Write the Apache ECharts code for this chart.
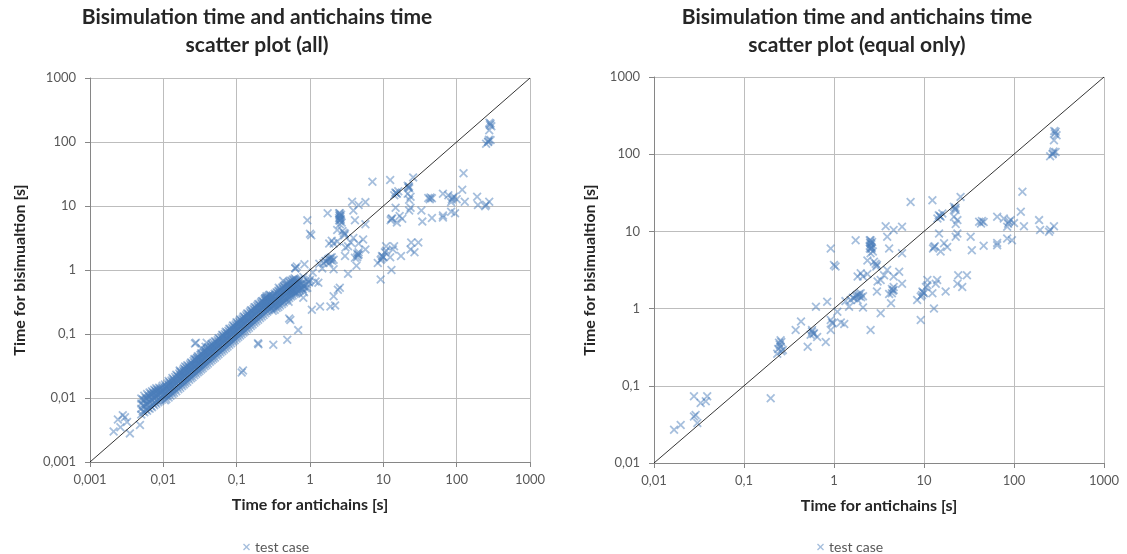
<!DOCTYPE html>
<html><head><meta charset="utf-8">
<script src="https://cdn.jsdelivr.net/npm/echarts@6/dist/echarts.min.js"></script>
<style>html,body{margin:0;padding:0;background:#fff}#c{width:1127px;height:554px}</style>
</head><body><div id="c"></div>
<script>
// Tick labels (comma decimal)
const tickLabels = ['0,001','0,01','0,1','1','10','100','1000'];
const xAxisTitle = 'Time for antichains [s]';
const yAxisTitle = 'Time for bisimualtion [s]';
const titleAll = 'Bisimulation time and antichains time\nscatter plot (all)';
const titleEqual = 'Bisimulation time and antichains time\nscatter plot (equal only)';
const seriesName = 'test case';

// Cases where both methods agree (shown in both plots)  [antichains s, bisimulation s]
const equalPoints = [
[290,195],[297,176],[278,152],[270,102],[290,107],[252,94],[124,32.6],[119,18],[129,11.7],[190,14],
[245,9.9],[278,11.7],[195,10.4],[92,14],[100,12.8],[77,14.7],[65,15.5],[84,11.5],[95,7.7],[84,8.1],
[65,7.1],[46,6.5],[43,12.7],[41,13.3],[33,8.5],[34,5.7],[30,2.7],[24,2.7],[23.5,2.1],[26.6,1.9],
[22.5,8.5],[23.5,9.4],[21.5,20.8],[22.5,18.9],[25.5,28],[15.3,15.5],[14.1,14.7],[16,17],[14.7,9.4],[15.3,5.5],
[12.9,6.3],[12.4,25.4],[16.7,7],[18.1,6.3],[17.4,1.66],[13.5,2.1],[10.9,2.35],[10.5,1.9],[10,1.58],[9.2,1.43],
[9.6,1.66],[8.4,1.29],[12.9,1.0],[9.2,0.71],[7.1,24],[5.7,11.5],[4.6,10.4],[3.75,11.7],[5.7,5.2],[4.1,6.0],
[2.55,7.0],[2.6,6.3],[2.5,6.0],[2.7,5.5],[2.55,7.7],[1.74,7.7],[2.78,4.05],[3.0,3.67],[2.35,4.2],[3.9,3.16],
[5.3,3.0],[3.6,2.7],[3.3,2.35],[5.7,2.1],[4.6,2.6],[4.6,1.74],[4.4,1.58],[4.3,1.17],[3.0,1.66],[3.3,0.87],
[2.55,0.53],[2.35,2.8],[1.98,2.87],[1.83,2.6],[2.1,2.6],[1.98,1.58],[1.67,1.36],[1.83,1.29],[1.53,1.29],[2.1,1.03],
[1.47,1.06],[1.34,1.25],[1.09,0.91],[0.92,6.0],[1.0,3.67],[1.04,3.5],[0.84,1.23],[0.63,1.06],[0.92,0.71],[0.95,0.66],
[1.19,0.66],[1.3,0.63],[0.92,0.53],[0.57,0.53],[0.6,0.48],[0.55,0.46],[0.65,0.43],[0.81,0.37],[0.51,0.32],[0.43,0.68],
[0.375,0.53],[0.255,0.39],[0.245,0.36],[0.255,0.32],[0.234,0.26],[0.27,0.29],[0.198,0.069],[0.0278,0.073],[0.039,0.073],[0.033,0.06],
[0.0376,0.063],[0.029,0.042],[0.0278,0.04],[0.0303,0.033],[0.0198,0.031],[0.0167,0.027],[3.9,8.5],[2.55,5.2],[2.5,7.7],[4.1,1.55],
[1.9,1.45],[2.1,1.45],[12.4,1.58],[10.9,2.0],[14,2.35],[21.5,15.5],[23.5,14],[22.5,12.5],[252,10.5],[65,6.6],
[2.6,6.8],[2.65,7.3],[2.5,6.5],[2.58,5.9],[2.62,6.1],[2.52,7.2],[0.25,0.34],[0.26,0.37],[0.24,0.3],[0.26,0.28],
[0.57,0.5],[0.59,0.47],[1.8,1.5],[1.9,1.55],[2.0,1.4],[1.75,1.45],[4.5,1.7],[4.6,1.9],[4.4,1.8],[9.5,1.5],
[9.8,1.62],[15,15.8],[14.6,16.2],[22,19.5],[22.4,20.2],[46,13.2],[44,13.6],[88,13.4],[86,12.6],[285,185],
[280,200],[275,108],[268,100],[12.6,6.0],[13.2,6.4],[0.97,0.64],[2.9,3.8],[2.95,3.5],[3.05,2.25],[1.62,1.38]
];

// Dense band of small cases near the diagonal (all plot only)
const bandPoints = [
[0.005,0.0055],[0.005,0.0068],[0.005,0.0082],[0.005,0.0098],[0.0055,0.006],[0.0055,0.0074],[0.0055,0.0092],[0.0055,0.0108],
[0.006,0.0063],[0.006,0.0079],[0.006,0.0097],[0.006,0.0115],[0.0065,0.0068],[0.0065,0.0086],[0.0065,0.0104],[0.0065,0.0122],
[0.007,0.0072],[0.007,0.0092],[0.007,0.0112],[0.007,0.0128],[0.0075,0.0077],[0.0075,0.0098],[0.0075,0.0118],[0.0075,0.0135],
[0.008,0.0081],[0.008,0.0104],[0.008,0.0125],[0.008,0.0142],[0.0085,0.0086],[0.0085,0.011],[0.0085,0.0132],
[0.009,0.009],[0.009,0.0116],[0.009,0.0139],[0.0095,0.0094],[0.0095,0.0121],[0.0095,0.0146],
[0.0105,0.0092],[0.0105,0.0118],[0.0105,0.0142],[0.0105,0.0162],[0.011,0.0096],[0.011,0.0124],[0.011,0.015],
[0.0118,0.0102],[0.0118,0.0132],[0.0118,0.016],[0.0118,0.0185],[0.0125,0.0108],[0.0125,0.014],[0.0125,0.0168],
[0.0133,0.0115],[0.0133,0.0148],[0.0133,0.0178],[0.0133,0.0205],[0.014,0.0121],[0.014,0.0156],[0.014,0.0188],
[0.015,0.0128],[0.015,0.0168],[0.015,0.02],[0.015,0.023],[0.016,0.0137],[0.016,0.0178],[0.016,0.0214],
[0.017,0.0145],[0.017,0.019],[0.017,0.0228],[0.017,0.026],[0.018,0.0154],[0.018,0.0202],[0.018,0.024],
[0.019,0.0162],[0.019,0.0212],[0.019,0.0255],[0.019,0.029],[0.02,0.0171],[0.02,0.0224],[0.02,0.0268],
[0.0212,0.018],[0.0212,0.0236],[0.0212,0.0284],[0.0212,0.0325],[0.0225,0.0192],[0.0225,0.0252],[0.0225,0.03],
[0.0238,0.0203],[0.0238,0.0266],[0.0238,0.0318],[0.0238,0.036],[0.025,0.0213],[0.025,0.028],[0.025,0.0335],
[0.0265,0.0226],[0.0265,0.0296],[0.0265,0.0355],[0.0265,0.0405],[0.028,0.0239],[0.028,0.0314],[0.028,0.0375],
[0.0295,0.0252],[0.0295,0.033],[0.0295,0.0395],[0.0295,0.045],
[0.031,0.0265],[0.031,0.0348],[0.031,0.0415],[0.0328,0.028],[0.0328,0.0368],[0.0328,0.044],[0.0328,0.05],
[0.0345,0.0295],[0.0345,0.0386],[0.0345,0.0462],[0.0365,0.0312],[0.0365,0.041],[0.0365,0.049],[0.0365,0.0555],
[0.0385,0.0328],[0.0385,0.0432],[0.0385,0.0515],[0.0405,0.0345],[0.0405,0.0455],[0.0405,0.0542],[0.0405,0.062],
[0.043,0.0367],[0.043,0.0482],[0.043,0.0575],[0.0455,0.0388],[0.0455,0.051],[0.0455,0.061],[0.0455,0.0695],
[0.048,0.041],[0.048,0.0538],[0.048,0.0643],[0.0505,0.0431],[0.0505,0.0566],[0.0505,0.0676],[0.0505,0.077],
[0.0535,0.0457],[0.0535,0.06],[0.0535,0.0716],[0.0565,0.0482],[0.0565,0.0633],[0.0565,0.0757],[0.0565,0.086],
[0.06,0.0512],[0.06,0.0672],[0.06,0.0803],[0.0635,0.0542],[0.0635,0.0711],[0.0635,0.085],[0.0635,0.097],
[0.067,0.0572],[0.067,0.075],[0.067,0.0897],[0.071,0.0606],[0.071,0.0795],[0.071,0.095],[0.071,0.108],
[0.075,0.064],[0.075,0.084],[0.075,0.1005],[0.0795,0.0678],[0.0795,0.089],[0.0795,0.1065],[0.0795,0.121],
[0.084,0.0717],[0.084,0.094],[0.084,0.1125],[0.089,0.076],[0.089,0.0997],[0.089,0.119],[0.089,0.136],
[0.094,0.0802],[0.094,0.1053],[0.094,0.126],[0.0995,0.0849],[0.0995,0.1114],[0.0995,0.1333],[0.0995,0.152],
[0.105,0.0896],[0.105,0.1176],[0.105,0.1407],[0.111,0.0947],[0.111,0.1243],[0.111,0.1487],[0.111,0.168],
[0.117,0.0998],[0.117,0.131],[0.117,0.1568],[0.124,0.1058],[0.124,0.1389],[0.124,0.1662],[0.124,0.188],
[0.131,0.1118],[0.131,0.1467],[0.131,0.1755],[0.139,0.1186],[0.139,0.1557],[0.139,0.1863],[0.139,0.21],
[0.147,0.1254],[0.147,0.1646],[0.147,0.197],[0.156,0.1331],[0.156,0.1747],[0.156,0.209],[0.156,0.234],
[0.165,0.1408],[0.165,0.1848],[0.165,0.2211],[0.175,0.1493],[0.175,0.196],[0.175,0.2345],[0.175,0.262],
[0.185,0.1579],[0.185,0.2072],[0.185,0.2479],[0.196,0.1672],[0.196,0.2195],[0.196,0.2626],[0.196,0.292],
[0.208,0.1775],[0.208,0.233],[0.208,0.2787],[0.22,0.1877],[0.22,0.2464],[0.22,0.2948],[0.22,0.326],
[0.233,0.1988],[0.233,0.261],[0.233,0.3122],[0.247,0.2108],[0.247,0.2766],[0.247,0.331],[0.247,0.364],
[0.262,0.2236],[0.262,0.2934],[0.262,0.3511],[0.277,0.2363],[0.277,0.3102],[0.277,0.3712],[0.277,0.405],
[0.293,0.25],[0.293,0.328],[0.293,0.392],
[0.31,0.23],[0.31,0.275],[0.31,0.335],[0.31,0.4],[0.33,0.24],[0.33,0.29],[0.33,0.355],[0.33,0.425],
[0.35,0.255],[0.35,0.31],[0.35,0.375],[0.35,0.45],[0.37,0.265],[0.37,0.33],[0.37,0.4],[0.37,0.475],
[0.39,0.28],[0.39,0.345],[0.39,0.42],[0.39,0.5],[0.415,0.295],[0.415,0.365],[0.415,0.445],[0.415,0.53],
[0.44,0.31],[0.44,0.385],[0.44,0.47],[0.44,0.56],[0.465,0.33],[0.465,0.41],[0.465,0.5],[0.465,0.59],
[0.49,0.345],[0.49,0.43],[0.49,0.525],[0.49,0.62],[0.52,0.365],[0.52,0.455],[0.52,0.555],[0.52,0.65],
[0.55,0.385],[0.55,0.48],[0.55,0.585],[0.55,0.68],[0.58,0.4],[0.58,0.5],[0.58,0.615],[0.58,0.71],
[0.615,0.42],[0.615,0.53],[0.615,0.645],[0.615,0.74],[0.65,0.44],[0.65,0.555],[0.65,0.675],
[0.69,0.46],[0.69,0.58],[0.69,0.7],[0.73,0.48],[0.73,0.6],[0.73,0.72],[0.78,0.5],[0.78,0.62],
[0.83,0.45],[0.83,0.56],[0.88,0.52]
];

// Dense band, second batch (all plot only)
const bandPoints2 = [
[0.00525,0.0062],[0.00525,0.0078],[0.00525,0.0095],[0.00575,0.0066],[0.00575,0.0083],[0.00575,0.01],
[0.00625,0.007],[0.00625,0.0089],[0.00625,0.0108],[0.00675,0.0075],[0.00675,0.0095],[0.00675,0.0116],
[0.00725,0.0081],[0.00725,0.0102],[0.00725,0.0122],[0.00775,0.0086],[0.00775,0.0108],[0.00775,0.013],
[0.00825,0.0092],[0.00825,0.0115],[0.00825,0.0136],[0.00875,0.0097],[0.00875,0.0122],[0.00875,0.0144],
[0.00925,0.0102],[0.00925,0.0128],[0.0098,0.0106],[0.0098,0.0134],[0.0098,0.0155],[0.0101,0.0112],[0.0101,0.0128],
[0.0108,0.0106],[0.0108,0.0133],[0.0108,0.0152],[0.0114,0.011],[0.0114,0.0141],[0.0114,0.0168],
[0.0121,0.0118],[0.0121,0.0151],[0.0121,0.0176],[0.0129,0.0124],[0.0129,0.0158],[0.0129,0.0188],
[0.0137,0.0132],[0.0137,0.0167],[0.0137,0.0196],[0.0145,0.0138],[0.0145,0.0177],[0.0145,0.0212],
[0.0155,0.0148],[0.0155,0.0188],[0.0155,0.0222],[0.0165,0.0157],[0.0165,0.0202],[0.0165,0.0242],
[0.0175,0.0166],[0.0175,0.0214],[0.0175,0.0252],[0.0185,0.0177],[0.0185,0.0226],[0.0185,0.027],
[0.0195,0.0186],[0.0195,0.0238],[0.0195,0.0282],[0.0206,0.0196],[0.0206,0.025],[0.0206,0.0302],
[0.0218,0.0207],[0.0218,0.0265],[0.0218,0.0315],[0.0231,0.022],[0.0231,0.0282],[0.0231,0.0338],
[0.0244,0.0232],[0.0244,0.0296],[0.0244,0.0352],[0.0258,0.0245],[0.0258,0.0314],[0.0258,0.038],
[0.0272,0.0258],[0.0272,0.033],[0.0272,0.0395],[0.0288,0.0273],[0.0288,0.035],[0.0288,0.0422],
[0.0302,0.0286],[0.0302,0.0368],[0.0302,0.044],
[0.0319,0.0302],[0.0319,0.0385],[0.0319,0.047],[0.0336,0.0318],[0.0336,0.0408],[0.0336,0.0488],
[0.0355,0.0336],[0.0355,0.0432],[0.0355,0.052],[0.0375,0.0355],[0.0375,0.0455],[0.0375,0.0545],
[0.0395,0.0374],[0.0395,0.048],[0.0395,0.058],[0.0418,0.0396],[0.0418,0.0508],[0.0418,0.061],
[0.0442,0.0419],[0.0442,0.0538],[0.0442,0.065],[0.0468,0.0443],[0.0468,0.0568],[0.0468,0.068],
[0.0492,0.0466],[0.0492,0.0598],[0.0492,0.0718],[0.052,0.0493],[0.052,0.0632],[0.052,0.0755],
[0.055,0.052],[0.055,0.0668],[0.055,0.08],[0.0582,0.0551],[0.0582,0.0707],[0.0582,0.0845],
[0.0618,0.0585],[0.0618,0.075],[0.0618,0.0898],[0.0652,0.0617],[0.0652,0.0792],[0.0652,0.0945],
[0.069,0.0654],[0.069,0.0838],[0.069,0.1002],[0.073,0.0691],[0.073,0.0887],[0.073,0.106],
[0.0772,0.0731],[0.0772,0.0938],[0.0772,0.112],[0.0818,0.0775],[0.0818,0.0994],[0.0818,0.119],
[0.0865,0.0819],[0.0865,0.105],[0.0865,0.1255],[0.0915,0.0867],[0.0915,0.1112],[0.0915,0.133],
[0.0968,0.0917],[0.0968,0.1176],[0.0968,0.1405],
[0.102,0.0966],[0.102,0.124],[0.102,0.148],[0.108,0.1022],[0.108,0.1312],[0.108,0.157],
[0.114,0.108],[0.114,0.1385],[0.114,0.1655],[0.1205,0.1141],[0.1205,0.1464],[0.1205,0.175],
[0.1275,0.1207],[0.1275,0.1549],[0.1275,0.185],[0.135,0.1278],[0.135,0.164],[0.135,0.196],
[0.143,0.1354],[0.143,0.1737],[0.143,0.2075],[0.1515,0.1434],[0.1515,0.184],[0.1515,0.22],
[0.1605,0.152],[0.1605,0.195],[0.1605,0.233],[0.17,0.161],[0.17,0.2065],[0.17,0.2465],
[0.18,0.1705],[0.18,0.2187],[0.18,0.261],[0.1905,0.1804],[0.1905,0.2314],[0.1905,0.2765],
[0.202,0.1913],[0.202,0.2454],[0.202,0.293],[0.214,0.2027],[0.214,0.26],[0.214,0.31],
[0.2265,0.2145],[0.2265,0.2752],[0.2265,0.3285],[0.24,0.2273],[0.24,0.2916],[0.24,0.348],
[0.2545,0.241],[0.2545,0.3092],[0.2545,0.369],[0.2695,0.2552],[0.2695,0.3274],[0.2695,0.39],
[0.285,0.27],[0.285,0.3462],[0.285,0.41],
[0.3,0.25],[0.3,0.305],[0.3,0.37],[0.32,0.265],[0.32,0.32],[0.32,0.39],[0.34,0.275],[0.34,0.34],[0.34,0.41],
[0.36,0.29],[0.36,0.36],[0.36,0.44],[0.38,0.3],[0.38,0.375],[0.38,0.46],[0.4,0.32],[0.4,0.395],[0.4,0.48],
[0.43,0.335],[0.43,0.42],[0.43,0.51],[0.455,0.355],[0.455,0.445],[0.455,0.54],[0.48,0.37],[0.48,0.465],[0.48,0.57],
[0.505,0.39],[0.505,0.49],[0.505,0.6],[0.535,0.41],[0.535,0.515],[0.535,0.63],[0.565,0.43],[0.565,0.54],[0.565,0.66],
[0.6,0.45],[0.6,0.565],[0.6,0.69],[0.635,0.47],[0.635,0.59],[0.635,0.71],[0.67,0.49],[0.67,0.61],
[0.71,0.5],[0.71,0.63],[0.755,0.53],[0.755,0.6],[0.8,0.5],[0.8,0.58]
];

// Other cases shown only in the "all" plot
const extraPoints = [
[0.0021,0.003],[0.0024,0.0046],[0.0028,0.0054],[0.003,0.005],[0.0035,0.0028],[0.0048,0.0038],[0.0032,0.0042],[0.0026,0.0035],
[0.027,0.071],[0.122,0.027],[0.117,0.025],[0.195,0.072],[0.316,0.068],[0.49,0.081],[0.54,0.166],[0.52,0.175],[0.69,0.115],[0.63,1.07],[0.66,1.13],
[1.37,0.27],[1.9,0.27],[2.2,0.28],[1.06,0.24],[2.4,0.49],[2.1,0.39],[1.0,0.7],[0.81,0.78],[0.9,0.6]
];

const diagonalAll = [[0.001,0.001],[1000,1000]];
const diagonalEqual = [[0.01,0.01],[1000,1000]];

const allPoints = equalPoints.concat(bandPoints, bandPoints2, extraPoints);

const F = 'Lato, "Open Sans", sans-serif';
const X_ICON = 'path://M0,1.4L1.4,0L5,3.6L8.6,0L10,1.4L6.4,5L10,8.6L8.6,10L5,6.4L1.4,10L0,8.6L3.6,5Z';
const MARK = 'rgba(74,126,187,0.62)';
const GRID = '#bdbdbd';

function fmt(v){ return tickLabels[Math.round(Math.log10(v)) + 3]; }

function xAxis(gi, min, split){
  return {type:'log', logBase:10, gridIndex:gi, min:min, max:1000, splitNumber:split,
    name:xAxisTitle, nameLocation:'middle', nameGap:35,
    nameTextStyle:{fontFamily:F, fontWeight:'bold', fontSize:16, color:'#262626'},
    axisLine:{show:true, lineStyle:{color:'#868686', width:1}},
    axisTick:{show:true, length:5, lineStyle:{color:'#868686'}},
    axisLabel:{fontFamily:F, fontSize:13, color:'#595959', margin:11, formatter:fmt},
    splitLine:{show:true, lineStyle:{color:GRID, width:1}},
    minorTick:{show:false}, minorSplitLine:{show:false}};
}
function yAxis(gi, min, split, gap){
  return {type:'log', logBase:10, gridIndex:gi, min:min, max:1000, splitNumber:split,
    name:yAxisTitle, nameLocation:'middle', nameGap:gap,
    nameTextStyle:{fontFamily:F, fontWeight:'bold', fontSize:16, color:'#262626'},
    axisLine:{show:true, lineStyle:{color:'#868686', width:1}},
    axisTick:{show:true, length:5, lineStyle:{color:'#868686'}},
    axisLabel:{fontFamily:F, fontSize:13, color:'#595959', margin:14, formatter:fmt},
    splitLine:{show:true, lineStyle:{color:GRID, width:1}},
    minorTick:{show:false}, minorSplitLine:{show:false}};
}
function legend(left){
  return {left:left, top:535, data:[seriesName], icon:X_ICON, itemWidth:7, itemHeight:7, itemGap:4,
    itemStyle:{color:MARK}, textStyle:{fontFamily:F, fontSize:14, color:'#595959'}, selectedMode:false};
}

const chart = echarts.init(document.getElementById('c'), null, {renderer:'canvas'});
chart.setOption({
  animation:false,
  backgroundColor:'#fff',
  graphic:[
    {type:'text', x:257, y:3, style:{text:titleAll, textAlign:'center', fontFamily:F, fontWeight:'bold', fontSize:21, lineHeight:28, fill:'#262626'}},
    {type:'text', x:857, y:3, style:{text:titleEqual, textAlign:'center', fontFamily:F, fontWeight:'bold', fontSize:21, lineHeight:28, fill:'#262626'}}
  ],
  legend:[legend(238), legend(812)],
  grid:[
    {left:90, top:78, width:440, height:384},
    {left:654, top:77, width:450, height:386}
  ],
  xAxis:[xAxis(0, 0.001, 6), xAxis(1, 0.01, 5)],
  yAxis:[yAxis(0, 0.001, 6, 62), yAxis(1, 0.01, 5, 56)],
  series:[
    {name:seriesName, type:'scatter', xAxisIndex:0, yAxisIndex:0, data:allPoints, symbol:X_ICON, symbolSize:9, itemStyle:{color:MARK}, z:2},
    {name:'diag1', type:'line', xAxisIndex:0, yAxisIndex:0, data:diagonalAll, symbol:'none', lineStyle:{color:'#000', width:0.8}, silent:true, z:3},
    {name:seriesName, type:'scatter', xAxisIndex:1, yAxisIndex:1, data:equalPoints, symbol:X_ICON, symbolSize:9, itemStyle:{color:MARK}, z:2},
    {name:'diag2', type:'line', xAxisIndex:1, yAxisIndex:1, data:diagonalEqual, symbol:'none', lineStyle:{color:'#000', width:0.8}, silent:true, z:3}
  ]
});
</script>
</body></html>
